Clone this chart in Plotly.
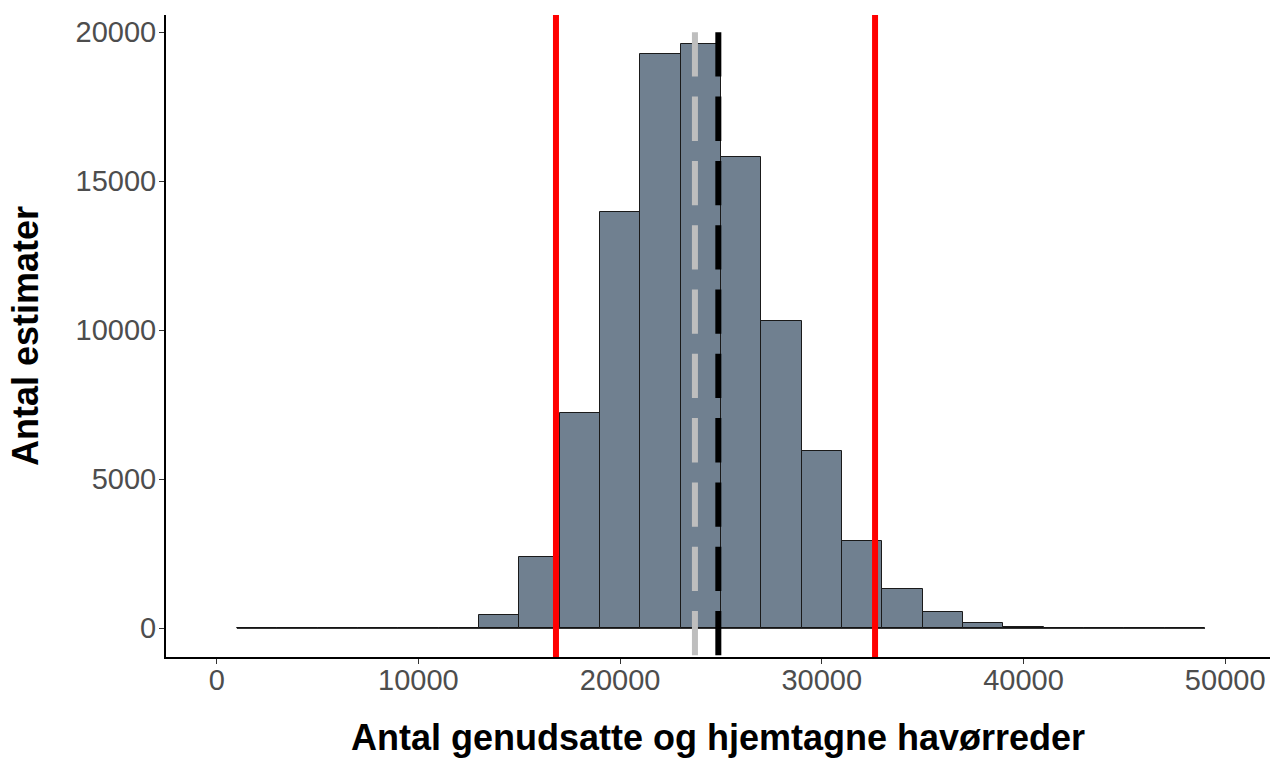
import plotly.graph_objects as go

# Histogram data (bin width 2000)
bin_centers = [2000, 4000, 6000, 8000, 10000, 12000, 14000, 16000, 18000, 20000,
               22000, 24000, 26000, 28000, 30000, 32000, 34000, 36000, 38000, 40000,
               42000, 44000, 46000, 48000]
counts = [0, 0, 0, 0, 0, 5, 446, 2383, 7215, 13960,
          19272, 19607, 15826, 10322, 5960, 2940, 1309, 537, 188, 55,
          8, 2, 0, 0]
bin_width = 2000

# Reference lines
ci_lines = [16820, 32640]        # red, solid
gray_line = 23710                # grey, dashed
black_line = 24870               # black, dashed
dash_top = 20000

x_ticks = [0, 10000, 20000, 30000, 40000, 50000]
y_ticks = [0, 5000, 10000, 15000, 20000]

x_range = [-2514, 52221]
y_range = [-963, 20580]

fig = go.Figure()

# baseline of histogram (zero-height bins)
fig.add_trace(go.Scatter(
    x=[bin_centers[0] - bin_width / 2, bin_centers[-1] + bin_width / 2],
    y=[0, 0], mode="lines", line=dict(color="black", width=1),
    hoverinfo="skip", showlegend=False))

fig.add_trace(go.Bar(
    x=bin_centers, y=counts, width=[bin_width] * len(bin_centers),
    marker=dict(color="#708090", line=dict(color="#1a1a1a", width=1)),
    showlegend=False))

shapes = []
for v in ci_lines:
    shapes.append(dict(type="line", xref="x", yref="paper", x0=v, x1=v, y0=1, y1=0,
                       line=dict(color="#FF0000", width=6), layer="above"))
shapes.append(dict(type="line", xref="x", yref="y", x0=gray_line, x1=gray_line,
                   y0=dash_top, y1=y_range[0],
                   line=dict(color="#BEBEBE", width=6, dash="44.3px,20px"), layer="above"))
shapes.append(dict(type="line", xref="x", yref="y", x0=black_line, x1=black_line,
                   y0=dash_top, y1=y_range[0],
                   line=dict(color="black", width=6, dash="44.3px,20px"), layer="above"))

fig.update_layout(
    width=1271, height=760,
    margin=dict(l=166, r=1, t=15, b=103),
    plot_bgcolor="white", paper_bgcolor="white",
    bargap=0,
    shapes=shapes,
    font=dict(family="Liberation Sans, Arial, sans-serif"),
    xaxis=dict(
        range=x_range, tickvals=x_ticks, ticktext=[str(t) for t in x_ticks],
        showgrid=False, zeroline=False,
        showline=True, linecolor="black", linewidth=2,
        ticks="outside", ticklen=5, tickwidth=1, tickcolor="#333333",
        tickfont=dict(size=29, color="#4D4D4D"),
        ticklabelstandoff=-9,
        title=dict(text="<b>Antal genudsatte og hjemtagne havørreder</b>",
                   font=dict(size=36, color="black"), standoff=30),
        automargin=False,
    ),
    yaxis=dict(
        range=y_range, tickvals=y_ticks, ticktext=[str(t) for t in y_ticks],
        showgrid=False, zeroline=False,
        showline=True, linecolor="black", linewidth=2,
        ticks="outside", ticklen=5, tickwidth=1, tickcolor="#333333",
        tickfont=dict(size=29, color="#4D4D4D"),
        ticklabelstandoff=-3,
        title=dict(text="<b>Antal estimater</b>",
                   font=dict(size=36, color="black"), standoff=26),
        automargin=False,
    ),
)

fig.write_html("out.html", config={"displayModeBar": False},
               post_script="document.body.style.margin='0';document.body.style.overflow='hidden';")
